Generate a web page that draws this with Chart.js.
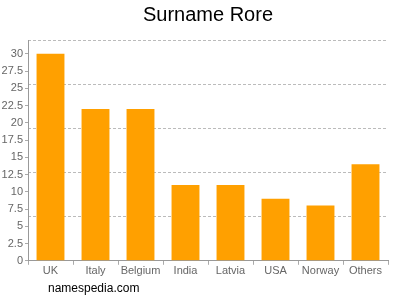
<!DOCTYPE html>
<html>
<head>
<meta charset="utf-8">
<script src="https://cdn.jsdelivr.net/npm/chart.js@4"></script>
<style>
  body { margin: 0; background: #fff; }
  #wrap { width: 400px; height: 300px; }
</style>
</head>
<body>
<div id="wrap"><canvas id="myChart"></canvas></div>
<script>
const countries = ['UK', 'Italy', 'Belgium', 'India', 'Latvia', 'USA', 'Norway', 'Others'];
const counts = [30, 22, 22, 11, 11, 9, 8, 14];
const titleText = 'Surname Rore';
const footerText = 'namespedia.com';

const font = "'Liberation Sans', Arial, sans-serif";

// site name under the chart
const footerPlugin = {
  id: 'footer',
  afterDraw(chart) {
    const ctx = chart.ctx;
    ctx.save();
    ctx.font = '12px ' + font;
    ctx.fillStyle = '#000';
    ctx.textAlign = 'left';
    ctx.textBaseline = 'alphabetic';
    ctx.fillText(footerText, 48, 292);
    ctx.restore();
  }
};

const data = {
  labels: countries,
  datasets: [{
    data: counts,
    backgroundColor: '#ffa000',
    barPercentage: 0.62,
    categoryPercentage: 1
  }]
};

const config = {
  type: 'bar',
  data: data,
  plugins: [footerPlugin],
  options: {
    responsive: true,
    maintainAspectRatio: false,
    animation: false,
    layout: { padding: { left: 0, right: 12, top: 0, bottom: 22 } },
    plugins: {
      legend: { display: false },
      tooltip: { enabled: false },
      title: {
        display: true,
        text: titleText,
        fullSize: false,
        color: '#000',
        font: { family: font, size: 20, weight: 'normal' },
        padding: { top: 3, bottom: 13 }
      }
    },
    scales: {
      x: {
        grid: { drawOnChartArea: false, drawTicks: true, tickLength: 4, color: '#aaa' },
        border: { color: '#999' },
        ticks: { color: '#666', padding: 0, maxRotation: 0, autoSkip: false, font: { family: font, size: 11 } }
      },
      y: {
        min: 0,
        max: 32,
        grid: { drawOnChartArea: false, drawTicks: true, tickLength: 3, color: '#aaa' },
        border: { color: '#999' },
        ticks: { stepSize: 2.5, includeBounds: false, color: '#666', padding: 2, font: { family: font, size: 11 } },
        afterFit: (s) => { s.width = 28; }
      },
      grid5: {
        position: 'left',
        min: 0,
        max: 5,
        grid: { color: '#bbb', drawTicks: false },
        border: { display: false, dash: [3, 2] },
        ticks: { display: false, stepSize: 1 },
        afterFit: (s) => { s.width = 0; }
      }
    }
  }
};

const myChart = new Chart(document.getElementById('myChart'), config);
</script>
</body>
</html>
